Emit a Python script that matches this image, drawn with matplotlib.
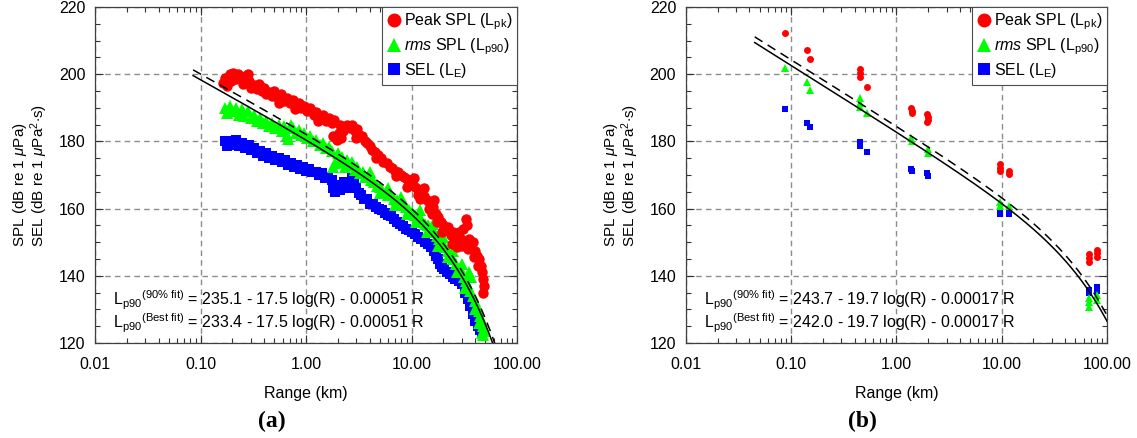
import matplotlib
matplotlib.use("Agg")
import matplotlib.pyplot as plt
from matplotlib.lines import Line2D
from matplotlib.ticker import FixedLocator, FormatStrFormatter, MultipleLocator, LogLocator, NullFormatter
import numpy as np

plt.rcParams["font.family"] = ["Liberation Sans", "DejaVu Sans"]
plt.rcParams["mathtext.fontset"] = "custom"
plt.rcParams["mathtext.rm"] = "Liberation Sans"
plt.rcParams["mathtext.it"] = "Liberation Sans:italic"
plt.rcParams["mathtext.bf"] = "Liberation Sans:bold"

# ---- panel (a): dense measurements (range km, level dB) ----
peak_a_km = [0.165, 0.170, 0.180, 0.190, 0.195, 0.205, 0.215, 0.225, 0.235, 0.250,
             0.265, 0.280, 0.290, 0.300, 0.320, 0.340, 0.360, 0.380, 0.400, 0.420,
             0.450, 0.480, 0.500, 0.540, 0.580, 0.620, 0.660, 0.700, 0.750, 0.800,
             0.850, 0.900, 0.960, 1.02, 1.10, 1.18, 1.25, 1.35, 1.45, 1.55,
             1.65, 1.75, 1.85, 1.80, 1.95, 2.05, 2.15, 2.25, 2.10, 2.30,
             2.45, 2.60, 2.75, 2.90, 3.05, 3.20, 3.40, 3.60, 3.80, 4.00,
             4.25, 4.50, 4.80, 5.10, 5.40, 5.80, 6.20, 6.60, 7.00, 7.50,
             8.00, 8.50, 9.00, 9.60, 10.2, 10.9, 11.6, 12.4, 13.2, 14.0,
             15.0, 16.0, 17.0, 18.0, 19.0, 20.0, 21.0, 22.0, 23.5, 25.0,
             26.5, 28.0, 29.5, 31.0, 32.5, 33.5, 35.0, 36.5, 38.0, 40.0,
             42.0, 44.0, 45.5, 47.0, 48.0, 49.0, 48.0,
             12.0, 15.5, 19.5, 24.0, 27.0, 30.0, 34.0, 39.0, 43.0, 3.0, 4.6, 7.2,
             9.0, 10.5, 11.5, 13.0, 14.5, 16.5, 17.5, 0.56, 0.78, 1.3]
peak_a_db = [197.5, 199.0, 196.5, 200.0, 198.0, 200.3, 198.5, 200.0, 199.0, 197.0,
             199.5, 200.2, 198.0, 196.0, 196.8, 195.5, 197.0, 195.0, 196.0, 194.0,
             194.8, 193.5, 195.0, 193.0, 194.0, 192.0, 193.0, 191.5, 192.3, 190.5,
             191.5, 189.8, 190.5, 189.0, 189.8, 188.0, 188.8, 187.0, 188.0, 186.2,
             187.0, 185.5, 186.5, 181.5, 180.5, 182.5, 181.0, 183.0, 185.0, 184.0,
             185.0, 184.0, 184.8, 183.0, 183.8, 182.0, 181.5, 180.0, 179.5, 178.5,
             177.5, 176.8, 176.0, 175.0, 174.0, 173.5, 172.5, 172.0, 171.3, 170.8,
             170.0, 169.5, 168.8, 168.0, 167.3, 166.5, 165.8, 165.0, 163.8, 162.5,
             161.5, 160.5, 158.5, 157.5, 156.0, 155.0, 153.5, 154.5, 152.0, 153.0,
             151.5, 153.0, 151.0, 154.0, 157.0, 155.0, 151.0, 149.5, 150.0, 147.5,
             146.0, 145.0, 143.0, 141.0, 139.0, 137.0, 135.0,
             163.0, 158.5, 153.0, 149.5, 148.5, 149.0, 148.0, 145.5, 143.0, 181.0, 175.0, 169.8,
             166.5, 169.0, 164.0, 166.0, 160.0, 162.5, 156.0, 191.5, 189.5, 186.0]

rms_a_km = [0.170, 0.180, 0.190, 0.200, 0.215, 0.230, 0.245, 0.260, 0.280, 0.300,
            0.320, 0.340, 0.365, 0.390, 0.420, 0.450, 0.480, 0.510, 0.550, 0.590,
            0.620, 0.660, 0.680, 0.720, 0.760, 0.800, 0.850, 0.900, 0.960, 1.02,
            1.10, 1.17, 1.25, 1.35, 1.45, 1.55, 1.65, 1.75, 1.80, 1.90,
            2.00, 2.10, 2.20, 2.35, 2.45, 2.60, 2.75, 2.90, 3.05, 3.25,
            3.45, 3.65, 3.90, 4.10, 4.40, 4.70, 5.00, 5.30, 5.70, 6.00,
            6.40, 6.80, 7.30, 7.80, 8.30, 8.90, 9.50, 10.2, 10.9, 11.6,
            12.4, 13.3, 14.2, 15.2, 16.2, 17.3, 18.4, 19.5, 20.8, 22.0,
            23.5, 25.0, 26.5, 28.0, 30.0, 31.5, 33.0, 34.5, 36.0, 38.0,
            40.0, 42.0, 43.5, 45.0, 46.5, 48.0, 49.0, 47.0, 35.0, 37.0,
            4.0, 6.0, 8.0, 12.0, 16.0, 20.0, 25.0, 30.0,
            5.0, 7.0, 9.0, 11.0, 14.0, 18.0, 22.0, 27.0, 32.0, 40.0, 44.0, 48.0]
rms_a_db = [190.0, 188.5, 190.5, 189.0, 190.0, 188.0, 189.5, 187.5, 189.0, 187.0,
            188.0, 186.0, 187.0, 185.5, 186.2, 184.5, 185.5, 184.0, 184.8, 183.0,
            184.5, 182.0, 180.8, 185.0, 184.0, 182.5, 183.5, 182.0, 182.5, 181.0,
            181.5, 180.0, 180.5, 179.0, 179.5, 178.0, 178.2, 177.0, 172.5, 173.5,
            176.5, 174.0, 175.5, 172.5, 174.5, 173.0, 174.0, 171.5, 172.5, 170.5,
            171.0, 169.5, 169.8, 168.5, 168.0, 166.8, 166.5, 165.5, 165.0, 164.0,
            164.0, 163.0, 162.5, 161.8, 161.0, 160.5, 159.5, 159.0, 158.0, 157.5,
            156.8, 155.5, 155.0, 154.0, 153.0, 151.8, 151.0, 149.5, 148.5, 147.5,
            146.0, 145.0, 143.5, 142.0, 141.0, 139.5, 138.5, 137.0, 135.5, 134.0,
            132.5, 131.0, 129.5, 128.0, 126.5, 125.0, 123.5, 123.0, 141.0, 139.5,
            171.0, 166.0, 163.5, 159.5, 155.5, 151.5, 147.5, 143.5,
            164.5, 161.0, 158.5, 156.0, 153.0, 149.0, 145.5, 141.0, 136.5, 130.0, 126.0, 122.5]

sel_a_km = [0.170, 0.180, 0.190, 0.200, 0.215, 0.230, 0.245, 0.265, 0.285, 0.300,
            0.320, 0.345, 0.370, 0.395, 0.420, 0.450, 0.480, 0.510, 0.550, 0.590,
            0.630, 0.670, 0.720, 0.770, 0.820, 0.880, 0.940, 1.00, 1.07, 1.15,
            1.23, 1.32, 1.42, 1.52, 1.62, 1.75, 1.80, 1.90, 2.00, 2.10,
            2.20, 2.30, 2.40, 2.55, 2.70, 2.85, 3.00, 3.15, 3.35, 3.55,
            3.80, 4.05, 4.30, 4.60, 4.90, 5.20, 5.60, 6.00, 6.40, 6.80,
            7.30, 7.80, 8.30, 8.90, 9.50, 10.2, 10.9, 11.6, 12.4, 13.3,
            14.2, 15.2, 16.2, 17.0, 17.8, 18.6, 19.5, 20.5, 21.5, 23.0,
            24.5, 26.0, 28.0, 30.0, 32.0, 34.0, 36.0, 38.0, 40.0, 42.5,
            45.0, 47.0]
sel_a_db = [180.0, 178.5, 180.2, 179.0, 180.5, 178.5, 179.5, 178.0, 178.8, 177.3,
            178.0, 176.5, 177.2, 175.8, 176.5, 175.0, 175.8, 174.5, 175.0, 173.8,
            174.5, 173.0, 173.5, 172.3, 173.0, 171.8, 172.5, 171.3, 171.8, 170.8,
            171.0, 170.0, 170.5, 169.0, 169.5, 168.5, 166.0, 165.0, 167.0, 165.5,
            166.8, 168.0, 166.0, 167.5, 169.0, 168.0, 166.0, 164.5, 164.0, 163.0,
            162.8, 161.5, 161.5, 160.5, 160.0, 159.5, 158.8, 158.0, 157.8, 157.0,
            156.0, 155.5, 154.8, 154.0, 153.5, 153.0, 152.5, 151.5, 151.0, 150.0,
            149.5, 148.5, 147.5, 146.0, 145.0, 143.5, 142.5, 142.0, 141.0, 140.5,
            139.5, 139.0, 138.5, 137.5, 135.0, 133.0, 131.0, 128.5, 126.5, 125.0,
            124.0, 123.0]

# ---- panel (b): sparse measurements ----
peak_b_km = [0.088, 0.14, 0.15, 0.455, 0.455, 0.455, 0.52, 1.38, 1.40, 1.42,
             1.96, 1.98, 1.98, 1.96, 9.6, 9.6, 9.6, 11.7, 11.7,
             67.5, 67.5, 67.5, 79.8, 79.8, 79.8]
peak_b_db = [212.4, 207.2, 204.6, 201.5, 200.5, 199.3, 196.2, 189.8, 189.0, 188.5,
             188.3, 187.3, 186.3, 185.8, 173.3, 172.2, 171.3, 171.2, 170.3,
             146.5, 145.3, 144.2, 147.8, 146.7, 145.6]

rms_b_km = [0.088, 0.14, 0.15, 0.455, 0.455, 0.455, 0.52, 1.38, 1.40, 1.98, 2.0,
            9.6, 9.6, 11.7, 67.5, 67.5, 67.5, 79.8, 79.8]
rms_b_db = [201.8, 197.8, 195.2, 193.0, 191.5, 190.3, 188.5, 181.0, 180.2, 177.6, 176.6,
            162.0, 160.8, 160.8, 133.5, 132.2, 130.8, 134.2, 132.8]

sel_b_km = [0.088, 0.14, 0.15, 0.455, 0.455, 0.52, 1.38, 1.42, 1.96, 1.98,
            9.6, 9.6, 11.7, 11.7, 67.5, 67.5, 79.8, 79.8]
sel_b_db = [189.7, 185.4, 184.2, 179.8, 178.6, 176.9, 171.8, 171.2, 170.6, 169.6,
            159.0, 158.4, 159.0, 158.4, 135.8, 134.8, 136.8, 135.6]

# fit coefficients: L = a - b log10(R[m]) - c R[m]
fit_a = {"90": 235.1, "best": 233.4, "b": 17.5, "c": 0.00051, "start": 0.085}
fit_b = {"90": 243.7, "best": 242.0, "b": 19.7, "c": 0.00017, "start": 0.045}

x_ticks = [0.01, 0.1, 1, 10, 100]
FS = 11.5

fig = plt.figure(figsize=(11.37, 4.38), dpi=100)
ax_a = fig.add_axes([0.0836, 0.2169, 0.3711, 0.7671])
ax_b = fig.add_axes([0.6033, 0.2169, 0.3703, 0.7671])


def draw_panel(ax, data, fit, ms, eq_text):
    (pk_km, pk_db), (rms_km, rms_db), (sel_km, sel_db) = data
    ax.plot(sel_km, sel_db, "s", color="#0000ff", ms=ms - 0.8, mew=0, zorder=3)
    ax.plot(rms_km, rms_db, "^", color="#00ff00", ms=ms + 0.5, mew=0, zorder=4)
    ax.plot(pk_km, pk_db, "o", color="#ff0000", ms=ms, mew=0, zorder=5)

    # fit lines from the printed equations
    r = np.logspace(np.log10(fit["start"]), 2, 300)
    rm = r * 1000.0
    ax.plot(r, fit["90"] - fit["b"] * np.log10(rm) - fit["c"] * rm,
            color="black", lw=1.1, dashes=(6, 4), zorder=6)
    ax.plot(r, fit["best"] - fit["b"] * np.log10(rm) - fit["c"] * rm,
            color="black", lw=1.1, zorder=6)

    ax.set_xscale("log")
    ax.set_xlim(0.01, 100)
    ax.set_ylim(120, 220)
    ax.xaxis.set_major_locator(FixedLocator(x_ticks))
    ax.xaxis.set_major_formatter(FormatStrFormatter("%.2f"))
    ax.xaxis.set_minor_locator(LogLocator(base=10, subs=np.arange(2, 10), numticks=20))
    ax.xaxis.set_minor_formatter(NullFormatter())
    ax.yaxis.set_major_locator(MultipleLocator(20))
    ax.yaxis.set_minor_locator(MultipleLocator(5))
    ax.tick_params(which="both", direction="in", top=True, right=True, labelsize=FS,
                   color="0.2")
    ax.tick_params(which="major", length=6, width=0.8)
    ax.tick_params(which="minor", length=3.5, width=0.8)
    ax.tick_params(axis="x", pad=10)
    ax.tick_params(axis="y", pad=7)
    ax.grid(True, which="major", color="0.55", linestyle=(0, (4, 3)), lw=1.0)
    for s in ax.spines.values():
        s.set_color("0.25")
        s.set_linewidth(0.9)

    ax.set_xlabel("Range (km)", fontsize=FS, labelpad=10)
    ax.set_ylabel("SPL (dB re 1 $\\mu$Pa)\nSEL (dB re 1 $\\mu$Pa$^2$$\\cdot$s)",
                  fontsize=11, multialignment="left", linespacing=1.0)
    ax.yaxis.set_label_coords(-0.106, 0.5)

    handles = [
        Line2D([], [], marker="o", color="#ff0000", ls="none", ms=10, mew=0),
        Line2D([], [], marker="^", color="#00ff00", ls="none", ms=10.5, mew=0),
        Line2D([], [], marker="s", color="#0000ff", ls="none", ms=9, mew=0),
    ]
    labels = ["Peak SPL (L$_{\\mathrm{pk}}$)", "$rms$ SPL (L$_{\\mathrm{p90}}$)",
              "SEL (L$_{\\mathrm{E}}$)"]
    leg = ax.legend(handles, labels, loc="upper right", borderaxespad=0,
                    fancybox=False, fontsize=FS, handlelength=0.9, handletextpad=0.15,
                    borderpad=0.3, labelspacing=0.25, framealpha=1)
    leg.get_frame().set_edgecolor("0.3")
    leg.get_frame().set_linewidth(0.8)
    leg.set_zorder(10)

    ax.text(0.043, 0.024, eq_text, transform=ax.transAxes, fontsize=FS,
            va="bottom", ha="left", linespacing=0.95, zorder=7)


draw_panel(ax_a, [(peak_a_km, peak_a_db), (rms_a_km, rms_a_db), (sel_a_km, sel_a_db)],
           fit_a, 7.5,
           "L$_{\\mathrm{p90}}{}^{\\mathrm{(90\\%\\ fit)}}$ = 235.1 - 17.5 log(R) - 0.00051 R\n"
           "L$_{\\mathrm{p90}}{}^{\\mathrm{(Best\\ fit)}}$ = 233.4 - 17.5 log(R) - 0.00051 R")
draw_panel(ax_b, [(peak_b_km, peak_b_db), (rms_b_km, rms_b_db), (sel_b_km, sel_b_db)],
           fit_b, 5.0,
           "L$_{\\mathrm{p90}}{}^{\\mathrm{(90\\%\\ fit)}}$ = 243.7 - 19.7 log(R) - 0.00017 R\n"
           "L$_{\\mathrm{p90}}{}^{\\mathrm{(Best\\ fit)}}$ = 242.0 - 19.7 log(R) - 0.00017 R")

fig.text(272 / 1137, 1 - 421 / 438, "(a)", fontsize=17, fontweight="bold",
         family="Liberation Serif", ha="center", va="center")
fig.text(862 / 1137, 1 - 421 / 438, "(b)", fontsize=17, fontweight="bold",
         family="Liberation Serif", ha="center", va="center")

fig.savefig("out.png", dpi=100)
